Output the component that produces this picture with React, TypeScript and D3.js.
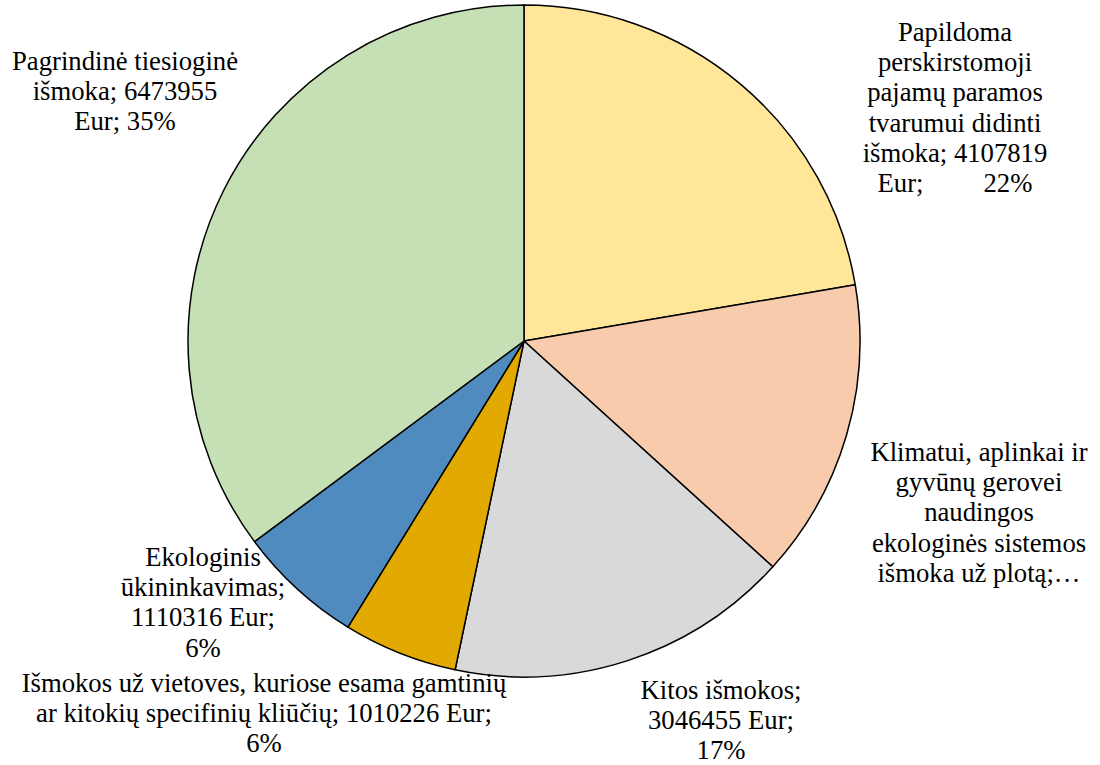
import React from "react";
import * as d3 from "d3";

const categories = [
  "Papildoma perskirstomoji pajamų paramos tvarumui didinti išmoka",
  "Klimatui, aplinkai ir gyvūnų gerovei naudingos ekologinės sistemos išmoka už plotą",
  "Kitos išmokos",
  "Išmokos už vietoves, kuriose esama gamtinių ar kitokių specifinių kliūčių",
  "Ekologinis ūkininkavimas",
  "Pagrindinė tiesioginė išmoka",
];
const values = [4107819, 2650000, 3046455, 1010226, 1110316, 6473955];
const colors = ["#FFE699", "#F8CBAD", "#D9D9D9", "#E2AA00", "#4F8BBF", "#C5E0B4"];

const labelLines = [
  ["Papildoma", "perskirstomoji", "pajamų paramos", "tvarumui didinti", "išmoka; 4107819", "Eur;         22%"],
  ["Klimatui, aplinkai ir", "gyvūnų gerovei", "naudingos", "ekologinės sistemos", "išmoka už plotą;…"],
  ["Kitos išmokos;", "3046455 Eur;", "17%"],
  ["Išmokos už vietoves, kuriose esama gamtinių", "ar kitokių specifinių kliūčių; 1010226 Eur;", "6%"],
  ["Ekologinis", "ūkininkavimas;", "1110316 Eur;", "6%"],
  ["Pagrindinė tiesioginė", "išmoka; 6473955", "Eur; 35%"],
];

// layout: label anchor (center x, first baseline y)
const labelAnchors = [
  [955, 41],
  [979, 461],
  [721, 699],
  [264, 692],
  [203, 566],
  [125, 70],
];

const W = 1100;
const H = 765;
const cx = 524;
const cy = 341;
const R = 336;
const lineH = 30.2;
const FONT = '"Liberation Serif", "Times New Roman", Times, serif';

export default function App() {
  const pie = d3.pie<number>().sort(null).value((d) => d);
  const arcs = pie(values);
  const arc = d3.arc<d3.PieArcDatum<number>>().innerRadius(0).outerRadius(R);
  return (
    <svg
      width={W}
      height={H}
      style={{ position: "absolute", left: 0, top: 0, display: "block", background: "#fff" }}
    >
      <g transform={`translate(${cx},${cy})`}>
        {arcs.map((a, i) => (
          <path
            key={categories[i]}
            d={arc(a) || ""}
            fill={colors[i]}
            stroke="#000"
            strokeWidth={1.5}
            strokeLinejoin="round"
          />
        ))}
      </g>
      {labelLines.map((lines, i) => (
        <text
          key={i}
          x={labelAnchors[i][0]}
          y={labelAnchors[i][1]}
          textAnchor="middle"
          fill="#000"
          style={{ whiteSpace: "pre", fontFamily: FONT, fontSize: "26.7px" }}
        >
          {lines.map((l, j) => (
            <tspan key={j} x={labelAnchors[i][0]} y={labelAnchors[i][1] + j * lineH}>
              {l}
            </tspan>
          ))}
        </text>
      ))}
    </svg>
  );
}
